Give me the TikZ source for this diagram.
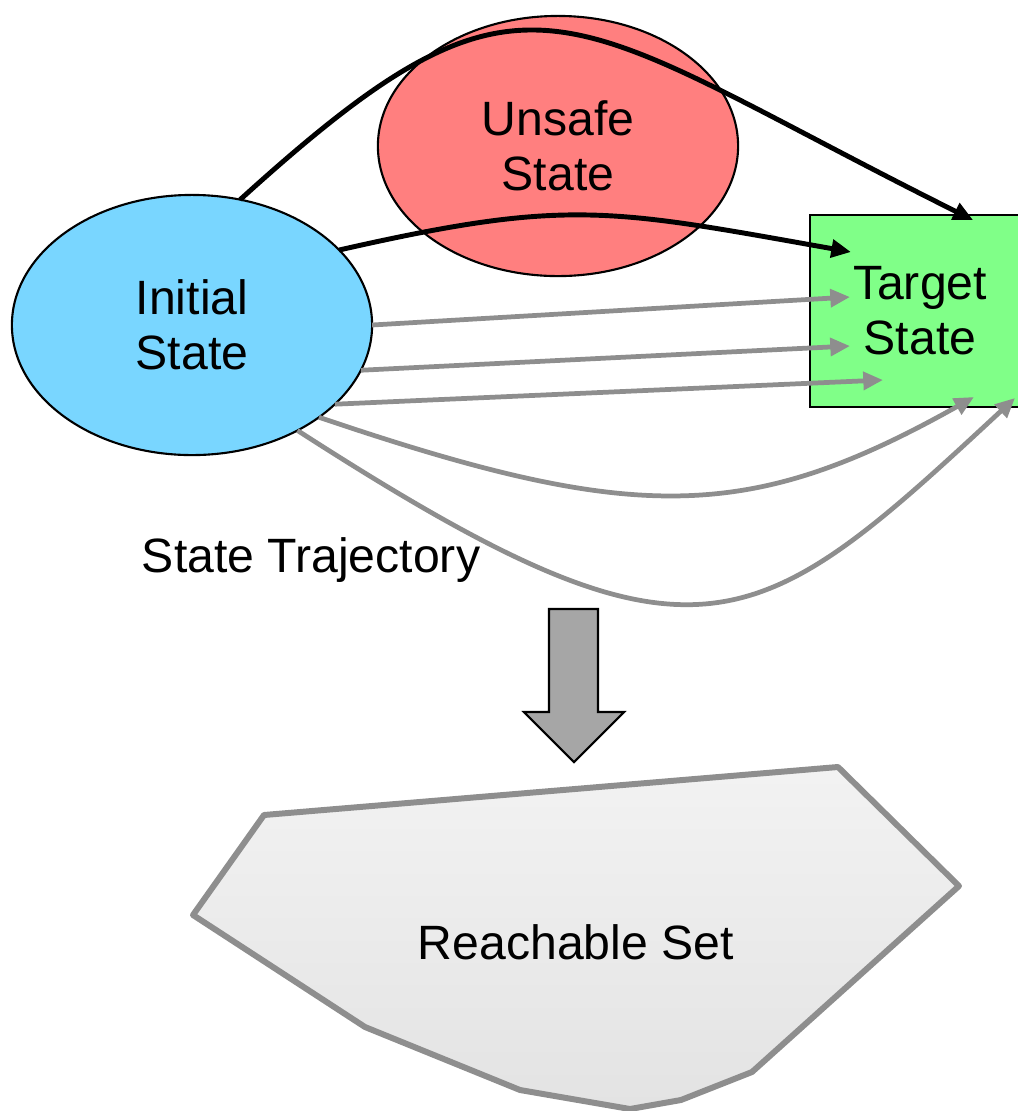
\documentclass[tikz,border=0pt]{standalone}
\usepackage{fontspec}
\setmainfont{Liberation Sans}
\usetikzlibrary{shapes.geometric,arrows.meta}

\definecolor{initblue}{HTML}{79D6FF}
\definecolor{unsafered}{HTML}{FF7F7F}
\definecolor{targetgreen}{HTML}{80FF88}
\definecolor{trajgray}{HTML}{8E8E8E}
\definecolor{bigarrowgray}{HTML}{A6A6A6}

\tikzset{
  statetext/.style={font=\fontsize{13.7}{15.6}\selectfont, align=center, text=black},
  stateellipse/.style={ellipse, draw=black, line width=0.6pt, inner sep=0pt, outer sep=0pt,
    minimum width=3.6cm, minimum height=2.6cm, statetext},
  blackflow/.style={draw=black, line width=1.4pt, -{Triangle[length=5.6pt,width=5pt]}},
  grayflow/.style={draw=trajgray, line width=1.35pt, -{Triangle[length=5.6pt,width=5pt]}},
  reachset/.style={draw=trajgray, line width=1.7pt, line join=round,
    top color=black!5, bottom color=black!11},
}

\begin{document}
\begin{tikzpicture}[x=0.01cm, y=-0.01cm]
\useasboundingbox (0,0) rectangle (1017,1111);

% states
\node[stateellipse, fill=unsafered] (unsafe) at (558,146) {Unsafe\\State};
\node[stateellipse, fill=initblue] (init) at (192,325) {Initial\\State};
\node[rectangle, draw=black, line width=0.6pt, fill=targetgreen, inner sep=0pt, outer sep=0pt,
      minimum width=2.2cm, minimum height=1.92cm, statetext] (target) at (920,311) {Target\\State};

% arrow tips inside the target
\coordinate (t1) at (973,220);
\coordinate (t2) at (851,252);
\coordinate (t3) at (850,297);
\coordinate (t4) at (850,346);
\coordinate (t5) at (883,380);
\coordinate (t6) at (974,397);
\coordinate (t7) at (1015,398);

% trajectories that pass the unsafe state
\draw[blackflow] (init.69) .. controls (532,-65) and (556,12) .. (t1);
\draw[blackflow] (init.27) .. controls (568,198) and (609,209) .. (t2);

% safe trajectories
\draw[grayflow] (init.0.6) -- (t3);
\draw[grayflow] (init.-15) -- (t4);
\draw[grayflow] (init.-29) -- (t5);
\draw[grayflow] (init.-36.6) .. controls (634,524) and (748,524) .. (t6);
\draw[grayflow] (init.-45) .. controls (697,688) and (752,642) .. (t7);

\node[statetext] (trajlabel) at (311,560) {State Trajectory};

% abstraction arrow
\draw[black, line width=0.6pt, fill=bigarrowgray, line join=miter]
  (549,609) -- (598,609) -- (598,712) -- (624,712) -- (574,762) -- (524,712) -- (549,712) -- cycle;

% reachable set
\path[reachset] (264,815) -- (838,767) -- (959,886) -- (752,1072) -- (681,1100)
  -- (630,1109) -- (520,1090) -- (365,1027) -- (193,915) -- cycle;
\node[statetext] (reach) at (576,942) {Reachable Set};
\end{tikzpicture}
\end{document}
